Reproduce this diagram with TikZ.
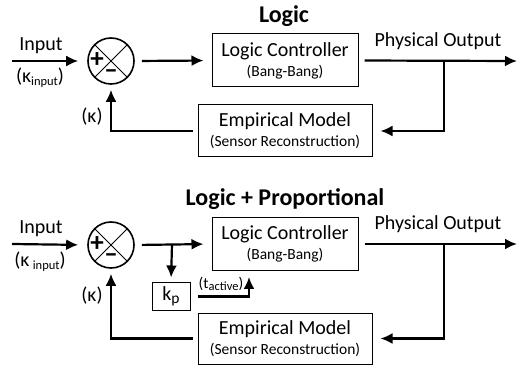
\documentclass[tikz,border=0pt]{standalone}
\usepackage{fontspec}
\setmainfont{Carlito}
\usetikzlibrary{arrows.meta,positioning}
\newcommand{\mainsz}{\fontsize{20}{20}\selectfont}
\newcommand{\smallsz}{\fontsize{15.5}{20}\selectfont}
\newcommand{\subsz}{\fontsize{12.5}{12}\selectfont}
\tikzset
{
    ctrlbox/.style = {rectangle, draw=black, line width=1pt, align=center, inner sep=0pt, font=\mainsz},
    sumnode/.style = {circle, draw=black, line width=1.6pt, minimum size=46pt, inner sep=0pt},
    signsym/.style = {inner sep=0pt, font=\fontsize{27}{27}\selectfont\bfseries},
    signal/.style  = {line width=2.2pt, -{Latex[length=12pt,width=11pt]}},
    lbl/.style     = {inner sep=0pt, font=\mainsz},
    smalllbl/.style = {inner sep=0pt, font=\smallsz},
    heading/.style = {inner sep=0pt, font=\fontsize{24}{24}\selectfont\bfseries}
}

\begin{document}
\begin{tikzpicture}[x=1pt, y=-1pt]
\useasboundingbox (0,0) rectangle (517,366);

% Logic
\node[heading] (head1) at (284,16) {Logic};
\node[sumnode] (sum1) at (111,61) {};
\draw[line width=0.8pt] (sum1.north east) -- (sum1.south west) (sum1.north west) -- (sum1.south east);
\node[signsym, xshift=-14pt, yshift=1pt] (plus1) at (sum1.center) {+};
\node[signsym, yshift=-13pt] (minus1) at (sum1.center) {--};
\node[ctrlbox, minimum width=146pt, minimum height=53pt] (ctl1) at (285,60.5)
  {Logic Controller\\{\smallsz (Bang-Bang)}};
\node[ctrlbox, minimum width=174pt, minimum height=52pt] (emp1) at (285,131)
  {Empirical Model\\{\smallsz (Sensor Reconstruction)}};
\coordinate (in1) at (12,61);
\coordinate (out1) at (517,61);
\coordinate (br1) at (444,61);
\node[lbl] (inlbl1) at (41,46) {Input};
\node[lbl] (kin1) at (40,78) {(κ\raisebox{-3pt}{\subsz input})};
\node[lbl] (kap1) at (92,117) {(κ)};
\node[lbl] (phy1) at (438,41) {Physical Output};
\draw[signal, shorten >=9pt] (in1) -- (sum1.west);
\draw[signal, shorten <=7pt, shorten >=8pt] (sum1.east) -- (ctl1.west);
\draw[signal, shorten <=6pt] (ctl1.east) -- (out1);
\draw[signal, shorten >=8pt] (br1) |- (emp1.east);
\draw[signal, shorten <=5pt, shorten >=5pt] (emp1.west) -| (sum1.south);

% Logic + Proportional
\node[heading] (head2) at (285,199) {Logic + Proportional};
\node[sumnode] (sum2) at (111,245) {};
\draw[line width=0.8pt] (sum2.north east) -- (sum2.south west) (sum2.north west) -- (sum2.south east);
\node[signsym, xshift=-14pt, yshift=1pt] (plus2) at (sum2.center) {+};
\node[signsym, yshift=-13pt] (minus2) at (sum2.center) {--};
\node[ctrlbox, minimum width=146pt, minimum height=53pt] (ctl2) at (285,244)
  {Logic Controller\\{\smallsz (Bang-Bang)}};
\node[ctrlbox, minimum width=174pt, minimum height=51pt] (emp2) at (285,338.5)
  {Empirical Model\\{\smallsz (Sensor Reconstruction)}};
\node[ctrlbox, minimum width=38pt, minimum height=27pt] (kp) at (171,296.5)
  {k\raisebox{-3pt}{\smallsz p}};
\coordinate (in2) at (12,244);
\coordinate (out2) at (517,244);
\coordinate (br2) at (444,244);
\coordinate (tap2) at (172,244);
\coordinate (tact) at (249,277);
\node[lbl] (inlbl2) at (41,229) {Input};
\node[lbl] (kin2) at (40,262) {(κ\,\raisebox{-3pt}{\subsz input})};
\node[lbl] (kap2) at (92,296) {(κ)};
\node[lbl] (phy2) at (438,224) {Physical Output};
\node[smalllbl] (tlbl) at (221,284) {(t\raisebox{-2pt}{\subsz active})};
\draw[signal, shorten >=9pt] (in2) -- (sum2.west);
\draw[signal, shorten <=7pt, shorten >=8pt] (sum2.east) -- (ctl2.west);
\draw[signal, shorten >=5pt] (tap2) -- (kp.north);
\draw[signal, shorten <=7pt] (kp.east) -| (tact);
\draw[signal, shorten <=6pt] (ctl2.east) -- (out2);
\draw[signal, shorten >=8pt] (br2) |- (emp2.east);
\draw[signal, shorten <=5pt, shorten >=5pt] (emp2.west) -| (sum2.south);
\end{tikzpicture}
\end{document}
